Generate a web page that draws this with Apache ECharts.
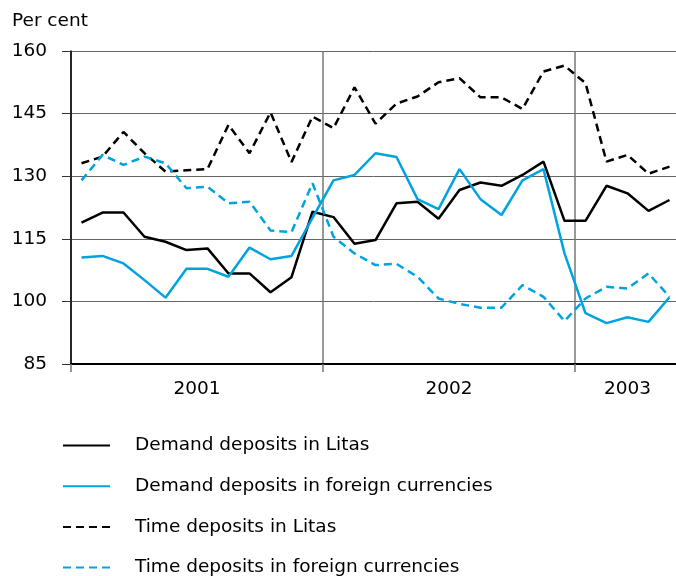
<!DOCTYPE html>
<html>
<head>
<meta charset="utf-8">
<script src="https://cdn.jsdelivr.net/npm/echarts@6/dist/echarts.min.js"></script>
<style>
  html, body { margin: 0; padding: 0; background: #fff; }
  #main { width: 676px; height: 576px; }
</style>
</head>
<body>
<div id="main"></div>
<script>
// monthly index values, Jan 2001 .. May 2003
var demandLitas = [118.9, 121.3, 121.3, 115.5, 114.3, 112.3, 112.7, 106.7, 106.7, 102.2, 105.8, 121.5,
                   120.2, 113.8, 114.7, 123.5, 123.9, 119.8, 126.7, 128.5, 127.7, 130.3, 133.5, 119.3,
                   119.3, 127.7, 125.9, 121.7, 124.3];
var demandForeign = [110.5, 110.9, 109.1, 105.1, 100.9, 107.8, 107.8, 105.9, 112.9, 110.1, 110.9, 120.0,
                     129.0, 130.3, 135.5, 134.6, 124.5, 122.1, 131.7, 124.5, 120.7, 129.0, 131.7, 111.5,
                     97.2, 94.8, 96.2, 95.1, 101.0];
var timeLitas = [133.1, 134.7, 140.6, 135.5, 131.1, 131.4, 131.7, 142.3, 135.5, 145.3, 133.4, 144.3,
                 141.5, 151.3, 142.6, 147.4, 149.1, 152.5, 153.5, 148.9, 148.9, 146.1, 155.1, 156.5,
                 152.3, 133.5, 135.1, 130.6, 132.3];
var timeForeign = [129.0, 135.1, 132.7, 134.7, 133.1, 127.1, 127.5, 123.5, 123.9, 117.0, 116.6, 128.3,
                   115.5, 111.5, 108.7, 109.0, 105.9, 100.7, 99.4, 98.5, 98.5, 103.9, 101.1, 95.3,
                   100.7, 103.5, 103.1, 106.7, 101.1];

var seriesNames = ['Demand deposits in Litas', 'Demand deposits in foreign currencies',
                   'Time deposits in Litas', 'Time deposits in foreign currencies'];
var yearLabels = ['2001', '2002', '2003'];
var yearLabelAt = [6, 18, 26.5];   // month position of each year label
var yearStarts = [0, 12, 24];
var yTicks = [85, 100, 115, 130, 145, 160];

var BLUE = '#00a3e0';
var FONT = 'DejaVu Sans';
var FS = 18.5;

function toPoints(arr) {
    // point i sits in the middle of month i
    return arr.map(function (v, i) { return [i + 0.5, v]; });
}

function lineSeries(name, values, color, dashed) {
    return {
        name: name,
        type: 'line',
        data: toPoints(values),
        showSymbol: false,
        symbol: 'none',
        silent: true,
        clip: false,
        lineStyle: { color: color, width: 2.5, type: dashed ? [8, 5] : 'solid' },
        itemStyle: { color: color }
    };
}

var chart = echarts.init(document.getElementById('main'));

var option = {
    animation: false,
    textStyle: { fontFamily: FONT },
    title: {
        text: 'Per cent',
        left: 12, top: 12, padding: 0,
        textStyle: { fontFamily: FONT, fontSize: FS, fontWeight: 'normal', color: '#000' }
    },
    legend: {
        orient: 'vertical',
        left: 62, top: 436,
        padding: 0,
        height: 150,
        itemWidth: 47, itemHeight: 18,
        itemGap: 21.7,
        selectedMode: false,
        itemStyle: { opacity: 0 },
        textStyle: { fontFamily: FONT, fontSize: FS, color: '#000', padding: [0, 0, 0, 20] },
        data: seriesNames
    },
    grid: { left: 71, right: 0, top: 51, bottom: 212 },
    xAxis: {
        type: 'value',
        min: 0, max: 28.81, interval: 12,
        axisLine: { show: true, lineStyle: { color: '#000', width: 2 } },
        axisTick: { show: true, length: 8, customValues: yearStarts, lineStyle: { color: '#777', width: 1.5 } },
        splitLine: { show: true, lineStyle: { color: '#777', width: 1.5 } },
        axisLabel: {
            customValues: yearLabelAt,
            margin: 16,
            fontFamily: FONT, fontSize: FS, color: '#000',
            formatter: function (v) { return yearLabels[yearLabelAt.indexOf(v)]; }
        }
    },
    yAxis: {
        type: 'value',
        min: yTicks[0], max: yTicks[yTicks.length - 1], interval: 15,
        axisLine: { show: true, lineStyle: { color: '#000', width: 1.5 } },
        axisTick: { show: true, length: 9, lineStyle: { color: '#333' } },
        splitLine: { show: true, lineStyle: { color: '#666', width: 1 } },
        axisLabel: { margin: 24, fontFamily: FONT, fontSize: FS, color: '#000' }
    },
    series: [
        lineSeries(seriesNames[0], demandLitas, '#000', false),
        lineSeries(seriesNames[1], demandForeign, BLUE, false),
        lineSeries(seriesNames[2], timeLitas, '#000', true),
        lineSeries(seriesNames[3], timeForeign, BLUE, true)
    ]
};

chart.setOption(option);
</script>
</body>
</html>
